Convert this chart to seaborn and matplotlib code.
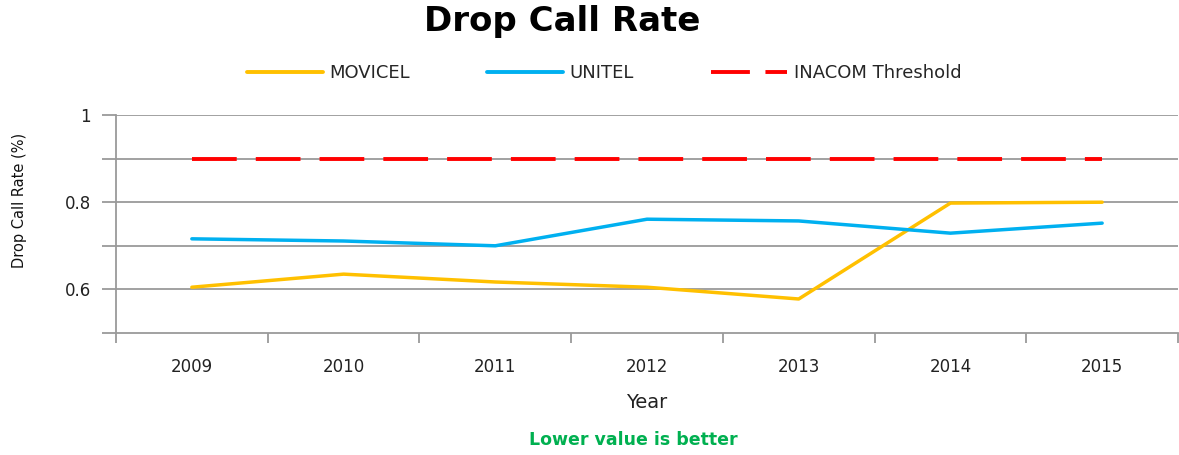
import numpy as np
import pandas as pd
import matplotlib
matplotlib.use('Agg')
import matplotlib.pyplot as plt
from matplotlib.lines import Line2D
from matplotlib.ticker import MultipleLocator, FixedLocator
import seaborn as sns

years = [2009, 2010, 2011, 2012, 2013, 2014, 2015]
movicel = [0.605, 0.635, 0.617, 0.605, 0.578, 0.798, 0.800]
unitel = [0.716, 0.711, 0.700, 0.761, 0.757, 0.729, 0.752]
threshold = [0.9, 0.9, 0.9, 0.9, 0.9, 0.9, 0.9]
y_ticks = [0.5, 0.6, 0.7, 0.8, 0.9, 1.0]
y_labels = ['', '0.6', '', '0.8', '', '1']

colors = {'MOVICEL': '#FFC000', 'UNITEL': '#00B0F0', 'INACOM Threshold': '#FF0000'}

sns.set_style('white')
plt.rcParams['font.family'] = ['DejaVu Sans']

df = pd.DataFrame({'Year': years, 'MOVICEL': movicel, 'UNITEL': unitel,
                   'INACOM Threshold': threshold})
long_df = df.melt(id_vars='Year', var_name='Series', value_name='Rate')

fig = plt.figure(figsize=(11.79, 4.55), dpi=100)
ax = fig.add_axes([116 / 1179, 122 / 455, 1062 / 1179, 218 / 455])

# grid first so lines sit on top
for v in y_ticks[1:]:
    ax.axhline(v, color='#9A9A9A', lw=1.3, zorder=0)

dash = [11.5, 4.9]
sns.lineplot(data=long_df[long_df.Series == 'INACOM Threshold'], x='Year', y='Rate',
             color=colors['INACOM Threshold'], lw=2.8, ax=ax, legend=False)
ax.lines[-1].set_dashes(dash)
sns.lineplot(data=long_df[long_df.Series != 'INACOM Threshold'], x='Year', y='Rate',
             hue='Series', palette=colors, lw=2.5, ax=ax, legend=False)

ax.set_xlim(2008.5, 2015.5)
ax.set_ylim(0.5, 1.0)
ax.xaxis.set_major_locator(FixedLocator(years))
ax.set_xticklabels([str(y) for y in years], fontsize=12, color='#222222')
ax.xaxis.set_minor_locator(MultipleLocator(1, offset=0.5))
ax.tick_params(axis='x', which='major', bottom=True, length=0, pad=18)
ax.tick_params(axis='x', which='minor', bottom=True, length=7, width=1.3,
               color='#9A9A9A', direction='out')
ax.yaxis.set_major_locator(FixedLocator(y_ticks))
ax.set_yticklabels(y_labels, fontsize=12, color='#222222')
ax.tick_params(axis='y', left=True, length=10, width=1.3, color='#9A9A9A',
               direction='out', pad=8)

for s in ['top', 'right']:
    ax.spines[s].set_visible(False)
for s in ['left', 'bottom']:
    ax.spines[s].set_color('#9A9A9A')
    ax.spines[s].set_linewidth(1.3)

ax.set_xlabel('Year', fontsize=14, labelpad=12, color='#222222')
ax.set_ylabel('')
fig.text(20 / 1179, 1 - 200 / 455, 'Drop Call Rate (%)', rotation=90, fontsize=10.5,
         ha='center', va='center', color='#111111')

fig.text(562 / 1179, 1 - 22 / 455, 'Drop Call Rate', fontsize=24.5, fontweight='bold',
         ha='center', va='center', color='black')
fig.text(633 / 1179, 1 - 440 / 455, 'Lower value is better', fontsize=12.5,
         fontweight='bold', ha='center', va='center', color='#00B050')

handles = [Line2D([], [], color=colors['MOVICEL'], lw=2.8),
           Line2D([], [], color=colors['UNITEL'], lw=2.8),
           Line2D([], [], color=colors['INACOM Threshold'], lw=2.8, dashes=[10, 4])]
fig.legend(handles, ['MOVICEL', 'UNITEL', 'INACOM Threshold'], ncol=3,
           loc='center', bbox_to_anchor=(604 / 1179, 1 - 73 / 455), frameon=False,
           fontsize=13, handlelength=4.2, handletextpad=0.35, columnspacing=4.3)

fig.savefig('out.png', dpi=100)
